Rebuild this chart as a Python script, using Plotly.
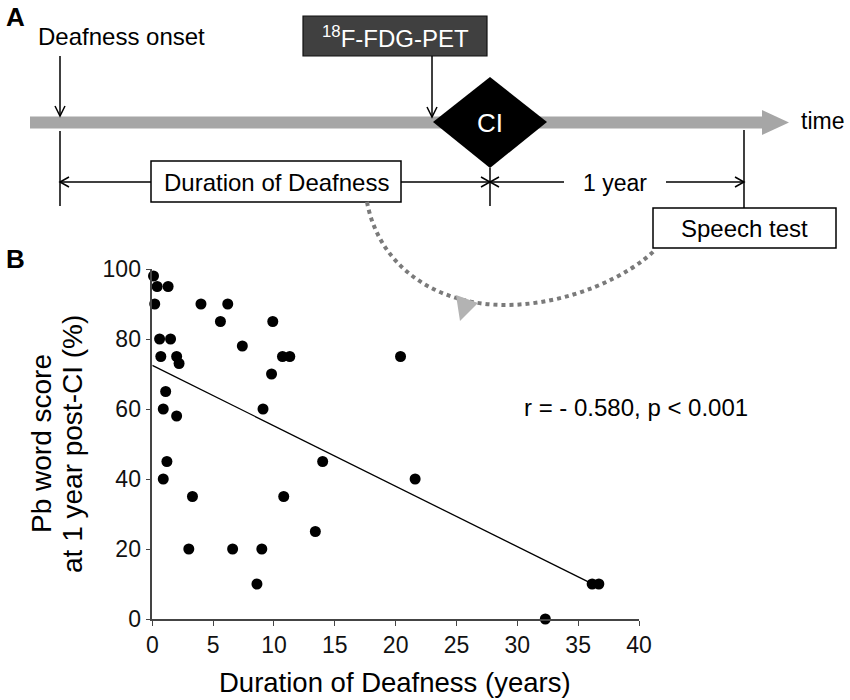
import numpy as np
import plotly.graph_objects as go

# ---------------- data ----------------
duration_years = [0.1, 0.4, 1.3, 0.2, 4.0, 6.2, 5.6, 9.9, 0.6, 1.5, 7.4, 0.7,
                  2.0, 2.2, 10.7, 11.3, 9.8, 1.1, 0.9, 2.0, 9.1, 1.2, 0.9, 3.3,
                  10.8, 14.0, 3.0, 6.6, 9.0, 8.6, 13.4, 20.4, 21.6, 36.15, 36.7, 32.3]
word_score = [98, 95, 95, 90, 90, 90, 85, 85, 80, 80, 78, 75,
              75, 73, 75, 75, 70, 65, 60, 58, 60, 45, 40, 35,
              35, 45, 20, 20, 20, 10, 25, 75, 40, 10, 10, 0]
x_ticks = [0, 5, 10, 15, 20, 25, 30, 35, 40]
y_ticks = [0, 20, 40, 60, 80, 100]
fit_x_start, fit_x_end = 0.0, 36.0
stat_text = "r = - 0.580, p < 0.001"

# regression line from the data
slope, intercept = np.polyfit(duration_years, word_score, 1)
fit_x = [fit_x_start, fit_x_end]
fit_y = [intercept + slope * v for v in fit_x]

W, H = 850, 700
FONT = "Liberation Sans, Arial, sans-serif"


def px(x):
    return x / W


def py(y):
    return 1 - y / H


def path(points, close=False):
    s = ""
    for i, (x, y) in enumerate(points):
        s += ("M" if i == 0 else "L") + f"{px(x):.5f},{py(y):.5f} "
    if close:
        s += "Z"
    return s


shapes = []


def add_path(points, close=False, fill=None, color="black", width=1.5, dash=None):
    d = dict(type="path", xref="paper", yref="paper", path=path(points, close),
             line=dict(color=color, width=width))
    if dash:
        d["line"]["dash"] = dash
    if fill:
        d["fillcolor"] = fill
    shapes.append(d)


def add_rect(x0, y0, x1, y1, fill, color="black", width=1.5):
    shapes.append(dict(type="rect", xref="paper", yref="paper",
                       x0=px(x0), x1=px(x1), y0=py(y1), y1=py(y0),
                       fillcolor=fill, line=dict(color=color, width=width)))


# ---- panel A: timeline ----
add_path([(30, 116.5), (762, 116.5), (762, 110), (789, 122.5), (762, 135),
          (762, 128.5), (30, 128.5)], close=True, fill="#a6a6a6", color="#a6a6a6", width=0)
# deafness onset arrow
add_path([(60, 56), (60, 116)])
add_path([(55, 106), (60, 116), (65, 106)])
# FDG box + arrow
add_rect(303, 16, 487, 56, "#404040", color="#111111", width=1.2)
add_path([(432, 56), (432, 117)])
add_path([(427, 107), (432, 117), (437, 107)])
# CI diamond
add_path([(433, 122), (490, 77), (547, 122), (490, 168)], close=True, fill="black", width=0)
# vertical markers
add_path([(60, 131), (60, 206)])
add_path([(490, 168), (490, 206)])
add_path([(744, 130), (744, 208)])
# horizontal arrows
add_path([(60, 182), (151, 182)])
add_path([(69, 177), (60, 182), (69, 187)])
add_path([(401, 182), (490, 182)])
add_path([(481, 177), (490, 182), (481, 187)])
add_path([(490, 182), (564, 182)])
add_path([(499, 177), (490, 182), (499, 187)])
add_path([(666, 182), (744, 182)])
add_path([(735, 177), (744, 182), (735, 187)])
# boxes
add_rect(151, 161, 401, 202, "white")
add_rect(653, 208, 836, 248, "white")
# dotted curved arrow
curve = (f"M{px(367):.5f},{py(202):.5f} "
         f"C{px(380):.5f},{py(270):.5f} {px(440):.5f},{py(305):.5f} {px(505):.5f},{py(305):.5f} "
         f"C{px(570):.5f},{py(305):.5f} {px(630):.5f},{py(275):.5f} {px(655):.5f},{py(250):.5f}")
shapes.append(dict(type="path", xref="paper", yref="paper", path=curve,
                   line=dict(color="#7a7a7a", width=4, dash="dot")))
add_path([(456, 295), (478, 303), (460, 321)], close=True, fill="#b3b3b3", width=0)


def ann(text, x, y, size, color="black", bold=False, angle=0, xanchor="center"):
    t = f"<b>{text}</b>" if bold else text
    return dict(text=t, x=px(x), y=py(y), xref="paper", yref="paper",
                xanchor=xanchor, yanchor="middle", showarrow=False, textangle=angle,
                font=dict(family=FONT, size=size, color=color))


annotations = [
    ann("A", 15, 17, 26, bold=True),
    ann("Deafness onset", 121, 37, 24),
    ann("<sup>18</sup>F-FDG-PET", 395, 37, 24, color="white"),
    ann("CI", 490, 123, 26, color="white"),
    ann("time", 822, 121, 23),
    ann("Duration of Deafness", 276, 182, 24),
    ann("1 year", 615, 183, 23),
    ann("Speech test", 744, 228, 24),
    ann("B", 15, 259, 26, bold=True),
    ann(stat_text, 636, 407, 24),
    ann("Duration of Deafness (years)", 395, 682, 27.5),
    ann("Pb word score", 42, 444, 28, angle=-90),
    ann("at 1 year post-CI (%)", 73, 444, 28, angle=-90),
]

fig = go.Figure()
fig.add_trace(go.Scatter(x=fit_x, y=fit_y, mode="lines",
                         line=dict(color="black", width=1.3), hoverinfo="skip"))
fig.add_trace(go.Scatter(x=duration_years, y=word_score, mode="markers",
                         marker=dict(color="black", size=11), cliponaxis=False))

axis_common = dict(showgrid=False, zeroline=False, showline=True, linecolor="#444",
                   linewidth=1.5, ticks="outside", ticklen=5, tickwidth=1.3,
                   tickcolor="#444", automargin=False,
                   tickfont=dict(family=FONT, size=23, color="#111"))
fig.update_layout(
    width=W, height=H, margin=dict(l=0, r=0, t=0, b=0, autoexpand=False),
    paper_bgcolor="white", plot_bgcolor="white", showlegend=False,
    xaxis=dict(domain=[152.3 / W, 639 / W], range=[0, 40], tickvals=x_ticks, **axis_common),
    yaxis=dict(domain=[(H - 619) / H, (H - 269) / H], range=[0, 100], tickvals=y_ticks,
               **axis_common),
    shapes=shapes, annotations=annotations,
)
fig.write_html("out.html", config={"displayModeBar": False},
               post_script="document.body.style.margin='0';document.body.style.overflow='hidden';")
